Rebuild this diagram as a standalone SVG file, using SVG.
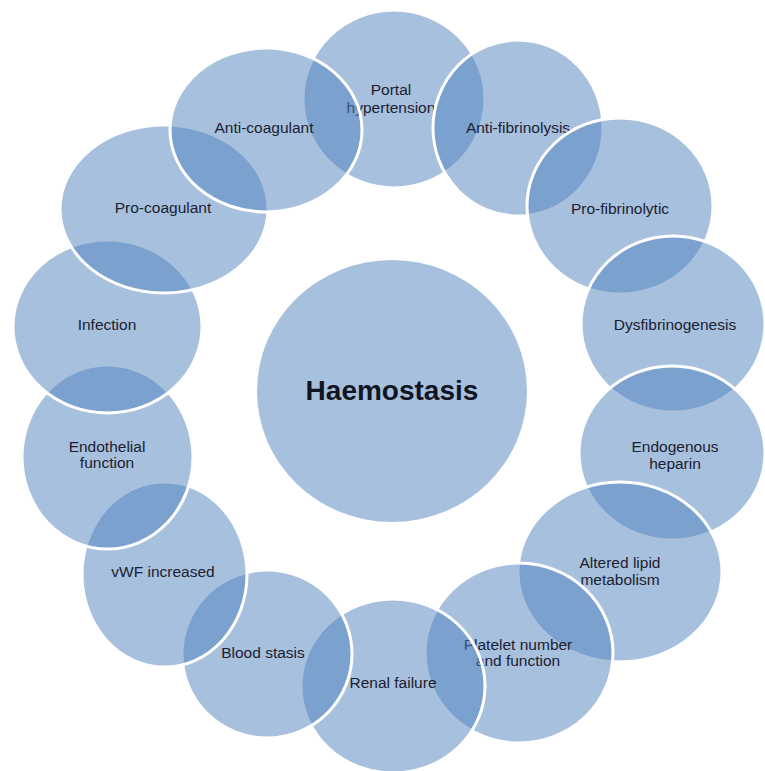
<svg xmlns="http://www.w3.org/2000/svg" width="765" height="771" viewBox="0 0 765 771">
<style>
.c{fill:rgb(79,129,189);fill-opacity:0.5;stroke:#ffffff;stroke-width:3}
.hub{fill:rgb(79,129,189);fill-opacity:0.5;stroke:none}
.t{font-family:"Liberation Sans",Arial,sans-serif;font-size:15.5px;fill:#1b2130;text-anchor:middle}
.h{font-family:"Liberation Sans",Arial,sans-serif;font-size:28px;font-weight:bold;fill:#111522;text-anchor:middle}
</style>
<rect width="765" height="771" fill="#ffffff"/>
<g id="haemostasis">
<ellipse class="hub" cx="392" cy="391" rx="135" ry="131"/>
<text class="h" x="392" y="400">Haemostasis</text>
</g>
<g id="portal-hypertension">
<ellipse class="c" cx="394" cy="99" rx="91" ry="89"/>
<text class="t" x="391" y="95">Portal</text>
<text class="t" x="391" y="113">hypertension</text>
</g>
<g id="anti-fibrinolysis">
<ellipse class="c" cx="518" cy="128" rx="85" ry="88"/>
<text class="t" x="518" y="133">Anti-fibrinolysis</text>
</g>
<g id="pro-fibrinolytic">
<ellipse class="c" cx="620" cy="206" rx="93" ry="88"/>
<text class="t" x="620" y="214">Pro-fibrinolytic</text>
</g>
<g id="dysfibrinogenesis">
<ellipse class="c" cx="673" cy="324" rx="92" ry="88"/>
<text class="t" x="675" y="330">Dysfibrinogenesis</text>
</g>
<g id="endogenous-heparin">
<ellipse class="c" cx="672" cy="453" rx="93" ry="87"/>
<text class="t" x="675" y="452">Endogenous</text>
<text class="t" x="675" y="469">heparin</text>
</g>
<g id="altered-lipid-metabolism">
<ellipse class="c" cx="620" cy="572" rx="102" ry="90"/>
<text class="t" x="620" y="568">Altered lipid</text>
<text class="t" x="620" y="585">metabolism</text>
</g>
<g id="platelet-number-and-function">
<ellipse class="c" cx="519" cy="653" rx="94" ry="90"/>
<text class="t" x="518" y="650">Platelet number</text>
<text class="t" x="518" y="666">and function</text>
</g>
<g id="renal-failure">
<ellipse class="c" cx="393" cy="686" rx="92" ry="87"/>
<text class="t" x="393" y="688">Renal failure</text>
</g>
<g id="blood-stasis">
<ellipse class="c" cx="267" cy="654" rx="85" ry="84"/>
<text class="t" x="263" y="658">Blood stasis</text>
</g>
<g id="vwf-increased">
<ellipse class="c" cx="164.5" cy="574.5" rx="82.5" ry="92.5"/>
<text class="t" x="163" y="577">vWF increased</text>
</g>
<g id="endothelial-function">
<ellipse class="c" cx="107.5" cy="457" rx="85.5" ry="92"/>
<text class="t" x="107" y="452">Endothelial</text>
<text class="t" x="107" y="468">function</text>
</g>
<g id="infection">
<ellipse class="c" cx="107.5" cy="326.5" rx="94.5" ry="86.5"/>
<text class="t" x="107" y="330">Infection</text>
</g>
<g id="pro-coagulant">
<ellipse class="c" cx="164" cy="209" rx="104" ry="84"/>
<text class="t" x="163" y="213">Pro-coagulant</text>
</g>
<g id="anti-coagulant">
<ellipse class="c" cx="266" cy="130" rx="96" ry="82"/>
<text class="t" x="264" y="133">Anti-coagulant</text>
</g>
</svg>
